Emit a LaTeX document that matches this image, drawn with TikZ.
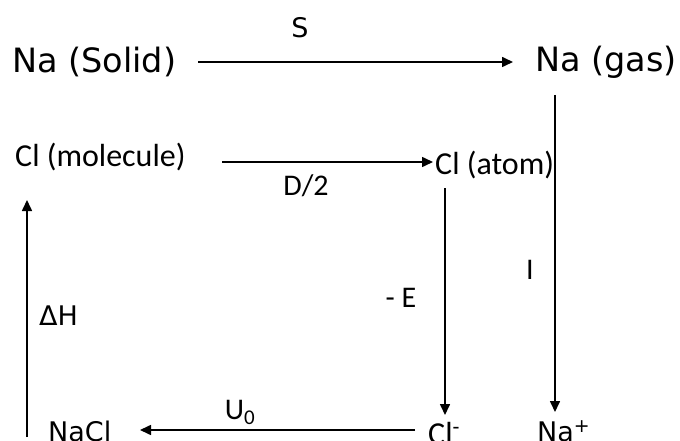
\documentclass[tikz,border=0pt]{standalone}
\usepackage{fontspec}
\setmainfont{DejaVu Sans}
\newfontfamily\calfont{Carlito}
\usetikzlibrary{arrows.meta}
\begin{document}
\begin{tikzpicture}[x=1pt,y=-1pt,
  big/.style={font=\fontsize{33.5}{38}\selectfont, inner sep=0pt, anchor=west},
  mid/.style={font=\calfont\fontsize{32}{36}\selectfont, inner sep=0pt, anchor=west},
  lab/.style={font=\calfont\fontsize{30}{34}\selectfont, inner sep=0pt},
  labv/.style={font=\fontsize{27}{30}\selectfont, inner sep=0pt},
  arr/.style={line width=1.6pt, -{Triangle[length=11pt,width=10pt]}}]
\useasboundingbox (0,0) rectangle (680,441);
\node[big] (nasolid) at (12,62) {Na (Solid)};
\node[big] (nagas) at (535,62) {Na (gas)};
\node[mid] (clmol) at (15,157) {Cl (molecule)};
\node[mid] (clatom) at (435,165) {Cl (atom)};
\node[labv, anchor=west] (nacl) at (48,431) {NaCl};
\node[mid, anchor=west] (clm) at (428,433) {Cl\textsuperscript{-}};
\node[labv, anchor=west] (nap) at (537,431) {Na\textsuperscript{+}};

\coordinate (sA) at (198,62);
\coordinate (sB) at (513,62);
\draw[arr] (sA) -- (sB);
\node[labv] (S) at (300,28) {S};

\coordinate (dA) at (222,162);
\coordinate (dB) at (433,162);
\draw[arr] (dA) -- (dB);
\node[lab] (D) at (306,186) {D/2};

\coordinate (iA) at (555,95);
\coordinate (iB) at (555,412);
\draw[arr] (iA) -- (iB);
\node[lab] (I) at (530,270) {I};

\coordinate (eA) at (445,188);
\coordinate (eB) at (445,415);
\draw[arr] (eA) -- (eB);
\node[lab] (E) at (401,298) {- E};

\coordinate (uA) at (415,430);
\coordinate (uB) at (140,430);
\draw[arr] (uA) -- (uB);
\node[lab] (U) at (240,412) {U\textsubscript{0}};

\coordinate (hA) at (27,437);
\coordinate (hB) at (27,200);
\draw[arr] (hA) -- (hB);
\node[labv, anchor=west] (H) at (39,316) {ΔH};
\end{tikzpicture}
\end{document}
